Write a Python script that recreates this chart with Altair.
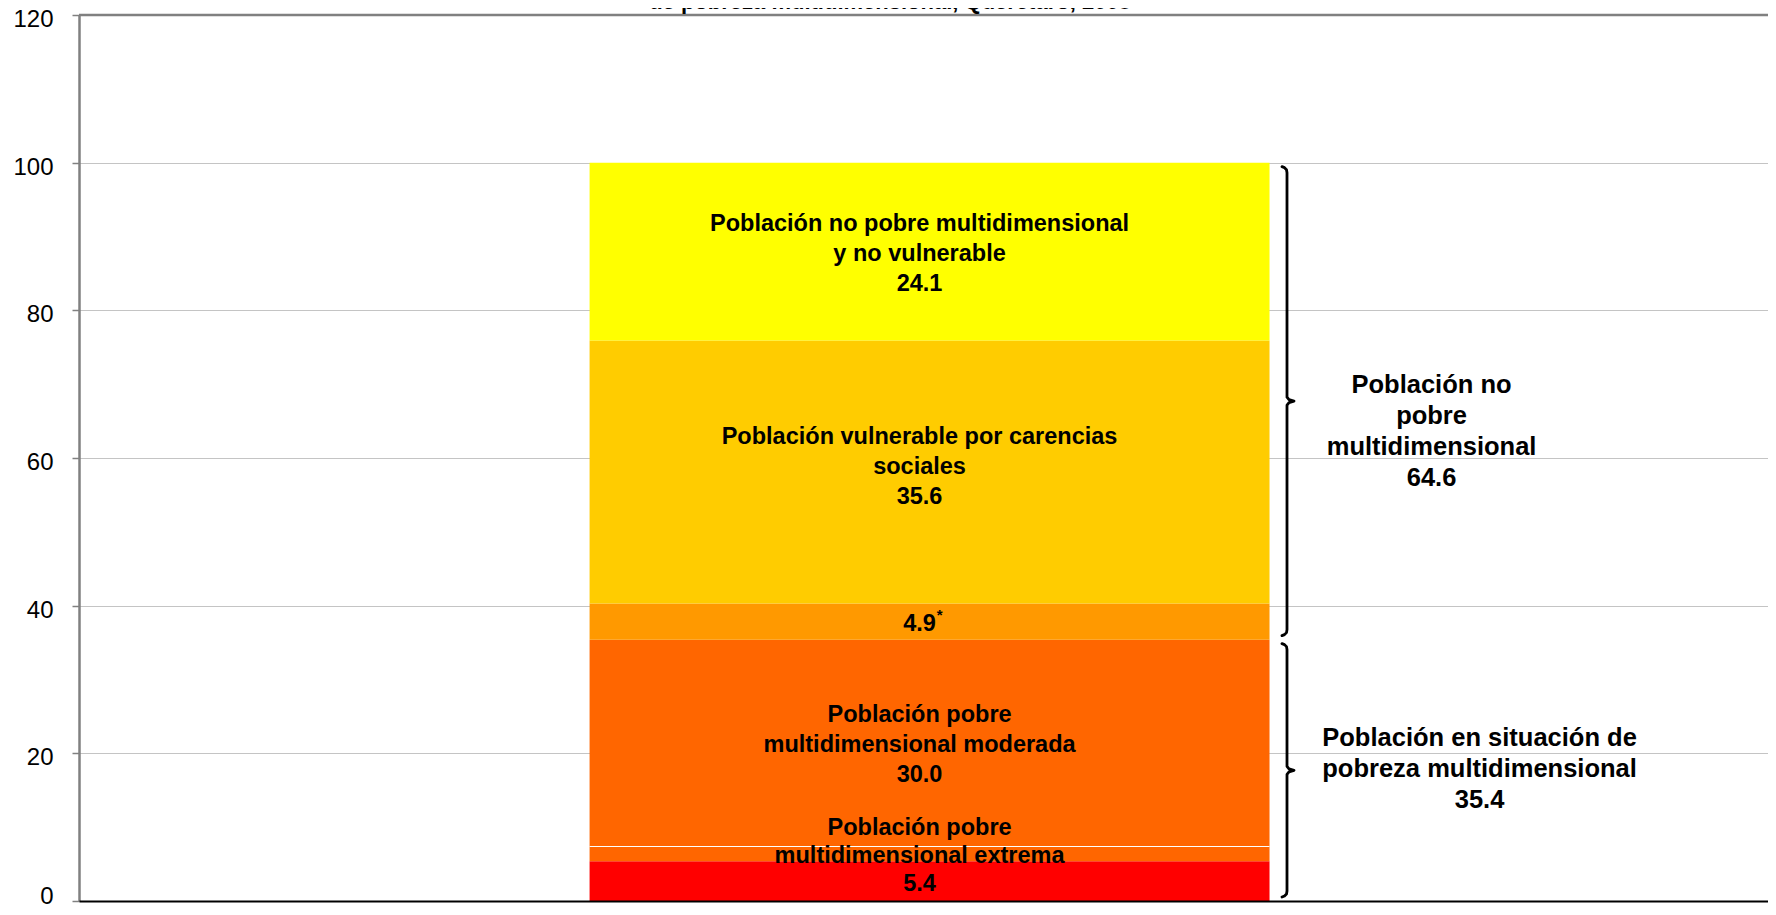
import altair as alt
import pandas as pd

# ---------------- data ----------------
bar_category = ["Querétaro 2008"]
segments = [
    "Población pobre multidimensional extrema",
    "Población pobre multidimensional moderada",
    "Población vulnerable por ingresos",
    "Población vulnerable por carencias sociales",
    "Población no pobre multidimensional y no vulnerable",
]
values = [5.4, 30.0, 4.9, 35.6, 24.1]
segment_label_lines = [
    ["Población pobre", "multidimensional extrema"],
    ["Población pobre", "multidimensional moderada"],
    [],
    ["Población vulnerable por carencias", "sociales"],
    ["Población no pobre multidimensional", "y no vulnerable"],
]
value_notes = ["", "", "*", "", ""]
groups = [
    "Población en situación de pobreza multidimensional",
    "Población no pobre multidimensional",
]
group_label_lines = [
    ["Población en situación de", "pobreza multidimensional"],
    ["Población no", "pobre", "multidimensional"],
]
group_members = [[0, 1], [2, 3, 4]]
y_ticks = [0, 20, 40, 60, 80, 100, 120]
title_line = "de pobreza multidimensional, Querétaro, 2008"
label_box_edge = [7.3, 7.45]   # thin white border of the "extrema" label box

# ---------------- styles / layout ----------------
colors = ["#FF0000", "#FF6600", "#FF9900", "#FFCC00", "#FFFF00"]
FONT = "Liberation Sans, Arial, sans-serif"
W, H = 1689, 886
seg_dy = [-25, -5, 2, -5, 2]      # offset of the label block centre (px)
seg_lh = [28, 30, 30, 30, 30]
grp_dx = [550, 502]
grp_dy = [-1, 30]
grp_lh = 31
brace_x = 1208
u = (y_ticks[-1] - y_ticks[0]) / H  # data units per pixel

starts = []
acc = 0.0
for v in values:
    starts.append(acc)
    acc += v
ends = [s + v for s, v in zip(starts, values)]

yscale = alt.Scale(domain=[y_ticks[0], y_ticks[-1]], nice=False, zero=True)
yaxis = alt.Axis(values=y_ticks, title=None, labelFont=FONT, labelFontSize=24,
                 labelColor="black", labelPadding=19,
                 labelOffset={"condition": {"test": "datum.value === 0", "value": -5},
                              "value": 4.5},
                 tickSize=7, tickColor="#808080",
                 tickWidth=1.5, domainColor="#808080", domainWidth=2.5,
                 grid=True, gridColor="#c4c4c4", gridWidth=1.2)
xscale = alt.Scale(paddingInner=0, paddingOuter=0.742, align=0.506)
xaxis = alt.Axis(labels=False, ticks=False, title=None, domainColor="black",
                 domainWidth=2, grid=False, zindex=1)


def X():
    return alt.X("cat:N", scale=xscale, axis=xaxis)


def Y(f):
    return alt.Y(f, scale=yscale, axis=yaxis)


df_bar = pd.DataFrame({
    "cat": bar_category * len(values),
    "segment": segments,
    "y0": starts,
    "y1": ends,
})

bars = alt.Chart(df_bar).mark_bar().encode(
    x=X(),
    y=Y("y0:Q"),
    y2="y1:Q",
    color=alt.Color("segment:N", scale=alt.Scale(domain=segments, range=colors), legend=None),
)

edge = alt.Chart(pd.DataFrame({"cat": bar_category, "a": [label_box_edge[0]],
                               "b": [label_box_edge[1]]})).mark_bar(color="white").encode(
    x=X(), y=Y("a:Q"), y2="b:Q")

top_rule = alt.Chart(pd.DataFrame({"y": [y_ticks[-1]]})).mark_rule(
    color="#808080", strokeWidth=2.5).encode(y=Y("y:Q"))

layers = [bars, edge, top_rule]

# segment labels
for i, v in enumerate(values):
    lines = segment_label_lines[i] + [f"{v:.1f}"]
    mid = (starts[i] + ends[i]) / 2
    dy = seg_dy[i] - (len(lines) - 1) * seg_lh[i] / 2
    d = pd.DataFrame({"cat": bar_category, "y": [mid], "text": ["\n".join(lines)]})
    layers.append(
        alt.Chart(d).mark_text(font=FONT, fontSize=23.5, fontWeight="bold", color="black",
                               lineBreak="\n", lineHeight=seg_lh[i], align="center",
                               baseline="middle", dx=-10, dy=dy).encode(
            x=X(), y=Y("y:Q"), text="text:N"))
    if value_notes[i]:
        dn = pd.DataFrame({"cat": bar_category, "y": [mid], "text": [value_notes[i]]})
        layers.append(
            alt.Chart(dn).mark_text(font=FONT, fontSize=15, fontWeight="bold", color="black",
                                    align="center", baseline="middle", dx=10,
                                    dy=seg_dy[i] - 9).encode(
                x=X(), y=Y("y:Q"), text="text:N"))

# group labels and braces
brace_rows = []
for g, members in enumerate(group_members):
    lo = starts[members[0]]
    hi = ends[members[-1]]
    total = sum(values[m] for m in members)
    mid = (lo + hi) / 2
    lines = group_label_lines[g] + [f"{total:.1f}"]
    dy = grp_dy[g] - (len(lines) - 1) * grp_lh / 2
    d = pd.DataFrame({"cat": bar_category, "y": [mid], "text": ["\n".join(lines)]})
    layers.append(
        alt.Chart(d).mark_text(font=FONT, fontSize=25.5, fontWeight="bold", color="black",
                               lineBreak="\n", lineHeight=grp_lh, align="center",
                               baseline="middle", dx=grp_dx[g], dy=dy).encode(
            x=X(), y=Y("y:Q"), text="text:N"))
    yt = hi - 4 * u
    yb = lo + 4 * u
    shape = [
        (-5, yt), (-2.5, yt - 1 * u), (-0.5, yt - 3 * u), (0, yt - 6 * u),
        (0, mid + 4 * u), (2, mid + 1.5 * u), (7, mid),
        (2, mid - 1.5 * u), (0, mid - 4 * u),
        (0, yb + 6 * u), (-0.5, yb + 3 * u), (-2.5, yb + 1 * u), (-5, yb),
    ]
    for k, (ox, yy) in enumerate(shape):
        brace_rows.append({"grp": groups[g], "seq": k, "px": brace_x + ox, "y": yy})

braces = alt.Chart(pd.DataFrame(brace_rows)).mark_line(
    color="black", strokeWidth=2.8, strokeJoin="round", strokeCap="round").encode(
    x=alt.X("px:Q", scale=None, axis=None),
    y=Y("y:Q"),
    detail="grp:N",
    order="seq:Q",
)
layers.append(braces)

title = alt.Chart(pd.DataFrame({"t": [title_line]})).mark_text(
    font=FONT, fontSize=22, fontWeight="bold", color="black", align="center",
    baseline="alphabetic").encode(
    x=alt.value(811), y=alt.value(-6), text="t:N")
layers.append(title)

chart = alt.layer(*layers).properties(
    width=W, height=H,
    padding={"left": 71, "top": 7, "right": 0, "bottom": 5},
    autosize=alt.AutoSizeParams(type="none"),
    background="white",
).configure_view(stroke=None)

chart.save("out.html", embed_options={"renderer": "svg", "actions": False})
